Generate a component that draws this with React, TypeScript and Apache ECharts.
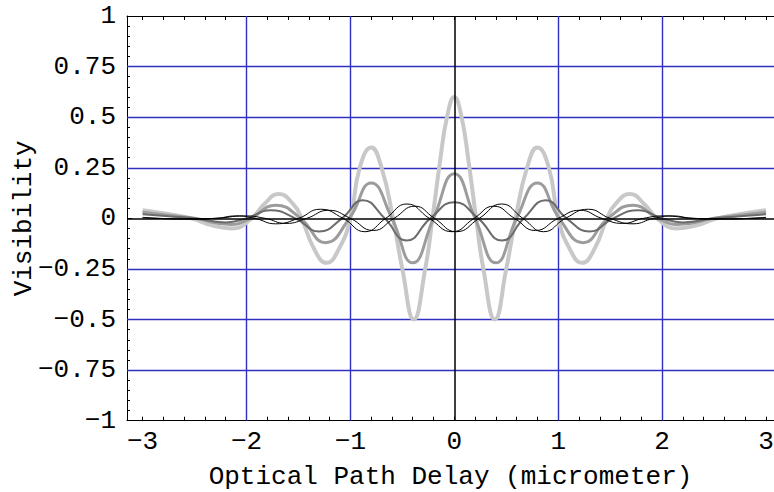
import React, { useEffect, useRef } from "react";
import * as echarts from "echarts";

// Axis ticks / labels
const xLabelValues = [-3, -2, -1, 0, 1, 2, 3];
const xGridValues = [-2, -1, 1, 2];
const yGridValues = [-0.75, -0.5, -0.25, 0.25, 0.5, 0.75];
const xTitle = "Optical Path Delay (micrometer)";
const yTitle = "Visibility";

// Light gray curve (largest amplitude)
const lightCurve: [number, number][] = [
  [-3.0, 0.04], [-2.8, 0.025], [-2.53, 0], [-2.33, -0.035], [-2.14, -0.05], [-1.95, 0],
  [-1.83, 0.07], [-1.69, 0.12], [-1.55, 0.07], [-1.47, 0], [-1.35, -0.15], [-1.23, -0.22],
  [-1.11, -0.15], [-1.0, 0], [-0.91, 0.25], [-0.8, 0.35], [-0.7, 0.25], [-0.59, 0],
  [-0.5, -0.25], [-0.39, -0.5], [-0.28, -0.25], [-0.21, 0], [-0.135, 0.29], [-0.07, 0.5],
  [0, 0.6],
  [0.07, 0.5], [0.135, 0.29], [0.21, 0], [0.28, -0.25], [0.39, -0.5], [0.5, -0.25],
  [0.59, 0], [0.7, 0.25], [0.8, 0.35], [0.91, 0.25], [1.0, 0], [1.11, -0.15], [1.23, -0.22],
  [1.35, -0.15], [1.47, 0], [1.55, 0.07], [1.69, 0.12], [1.83, 0.07], [1.95, 0],
  [2.14, -0.05], [2.33, -0.035], [2.53, 0], [2.8, 0.025], [3.0, 0.04],
];

// Medium gray curve
const mediumCurve: [number, number][] = [
  [-3.0, 0.03], [-2.75, 0.015], [-2.5, 0], [-2.15, -0.03], [-1.96, 0], [-1.72, 0.065],
  [-1.48, 0], [-1.24, -0.12], [-1.01, 0], [-0.8, 0.175], [-0.6, 0], [-0.4, -0.22],
  [-0.2, 0], [0, 0.22], [0.2, 0], [0.4, -0.22], [0.6, 0], [0.8, 0.175], [1.01, 0],
  [1.24, -0.12], [1.48, 0], [1.72, 0.065], [1.96, 0], [2.15, -0.03], [2.5, 0],
  [2.75, 0.015], [3.0, 0.03],
];

// Dark gray curve
const darkCurve: [number, number][] = [
  [-3.0, 0.02], [-2.75, 0.01], [-2.5, 0], [-2.2, -0.02], [-2.0, 0], [-1.77, 0.04],
  [-1.53, 0], [-1.3, -0.065], [-1.08, 0], [-0.88, 0.09], [-0.67, 0], [-0.46, -0.11],
  [-0.23, 0], [0, 0.08], [0.23, 0], [0.46, -0.11], [0.67, 0], [0.88, 0.09], [1.08, 0],
  [1.3, -0.065], [1.53, 0], [1.77, 0.04], [2.0, 0], [2.2, -0.02], [2.5, 0],
  [2.75, 0.01], [3.0, 0.02],
];

// Thin black curve, shifted left
const blackLeft: [number, number][] = [
  [-3.0, 0.003], [-2.6, -0.003], [-2.3, 0], [-2.1, 0.012], [-1.92, 0], [-1.72, -0.027],
  [-1.5, 0], [-1.29, 0.045], [-1.07, 0], [-0.86, -0.066], [-0.66, 0], [-0.455, 0.071],
  [-0.24, 0], [-0.02, -0.066], [0.19, 0], [0.38, 0.06], [0.58, 0], [0.78, -0.06],
  [1.0, 0], [1.21, 0.04], [1.42, 0], [1.62, -0.025], [1.82, 0], [2.02, 0.012],
  [2.3, 0], [2.6, -0.003], [3.0, 0.005],
];

// Thin black curve, shifted right
const blackRight: [number, number][] = [
  [-3.0, 0.005], [-2.6, -0.003], [-2.3, 0], [-2.02, 0.012], [-1.82, 0], [-1.62, -0.025],
  [-1.42, 0], [-1.21, 0.04], [-1.0, 0], [-0.78, -0.06], [-0.58, 0], [-0.38, 0.06],
  [-0.19, 0], [0.02, -0.066], [0.24, 0], [0.455, 0.071], [0.66, 0], [0.86, -0.066],
  [1.07, 0], [1.29, 0.045], [1.5, 0], [1.72, -0.027], [1.92, 0], [2.1, 0.012],
  [2.3, 0], [2.6, -0.003], [3.0, 0.003],
];

const FONT = "Liberation Mono";
const FONT_SIZE = 26;
const GRID_BLUE = "#3030c0";
const minus = (v: number) => (v < 0 ? "\u2212" + String(-v) : String(v));

function tickValues(from: number, to: number, step: number): number[] {
  const out: number[] = [];
  const n = Math.round((to - from) / step);
  for (let i = 0; i <= n; i++) out.push(Math.round((from + i * step) * 1000) / 1000);
  return out;
}

export default function App() {
  const ref = useRef<HTMLDivElement>(null);
  useEffect(() => {
    if (!ref.current) return;
    const chart = echarts.init(ref.current, undefined, { renderer: "svg" });
    const xMinor = tickValues(-3, 3, 0.2);
    const baseX = {
      type: "value" as const,
      min: -3.15,
      max: 3.077,
      splitLine: { show: false },
    };
    const curve = (data: [number, number][], color: string, width: number, z: number) => ({
      type: "line",
      data,
      smooth: 0.5,
      showSymbol: false,
      symbol: "none",
      z,
      lineStyle: { color, width },
      silent: true,
    });
    chart.setOption({
      animation: false,
      backgroundColor: "#ffffff",
      grid: {
        left: 127,
        top: 16,
        right: 0,
        height: 404.7,
        containLabel: false,
        outerBoundsMode: "none",
      },
      xAxis: [
        {
          ...baseX,
          position: "bottom",
          axisLine: { show: true, onZero: false, lineStyle: { color: "#000", width: 1 } },
          axisTick: { show: true, inside: true, length: 4, customValues: xMinor, lineStyle: { color: "#000" } },
          axisLabel: {
            show: true,
            customValues: xLabelValues,
            formatter: minus,
            color: "#000",
            fontFamily: FONT,
            fontSize: FONT_SIZE,
            margin: 8,
          },
          name: xTitle,
          nameLocation: "middle",
          nameGap: 43,
          nameMoveOverlap: false,
          nameTextStyle: { color: "#000", fontFamily: FONT, fontSize: FONT_SIZE },
        },
        {
          ...baseX,
          position: "top",
          axisLine: { show: true, onZero: false, lineStyle: { color: "#000", width: 1 } },
          axisTick: { show: true, inside: true, length: 4, customValues: xMinor, lineStyle: { color: "#000" } },
          axisLabel: { show: false },
        },
      ],
      yAxis: [
        {
          type: "value",
          min: -1,
          max: 1,
          interval: 0.25,
          position: "left",
          axisLine: { show: true, onZero: false, lineStyle: { color: "#000", width: 1 } },
          axisTick: { show: true, inside: true, length: 5, lineStyle: { color: "#000" } },
          minorTick: { show: true, splitNumber: 5, length: 3, lineStyle: { color: "#000" } },
          splitLine: { show: false },
          axisLabel: {
            formatter: minus,
            color: "#000",
            fontFamily: FONT,
            fontSize: FONT_SIZE,
            margin: 11,
          },
          name: yTitle,
          nameLocation: "middle",
          nameGap: 90,
          nameMoveOverlap: false,
          nameTextStyle: { color: "#000", fontFamily: FONT, fontSize: FONT_SIZE },
        },
      ],
      series: [
        {
          type: "line",
          data: [],
          z: 1,
          silent: true,
          markLine: {
            z: 1,
            silent: true,
            symbol: ["none", "none"],
            label: { show: false },
            lineStyle: { color: GRID_BLUE, width: 1.4, type: "solid" },
            data: [
              ...xGridValues.map((v) => ({ xAxis: v })),
              ...yGridValues.map((v) => ({ yAxis: v })),
            ],
          },
        },
        curve(lightCurve, "#c8c8c8", 4, 2),
        curve(mediumCurve, "#9c9c9c", 3, 3),
        curve(darkCurve, "#6c6c6c", 2, 4),
        curve(blackLeft, "#000000", 1, 5),
        curve(blackRight, "#000000", 1, 5),
        {
          type: "line",
          data: [],
          z: 10,
          silent: true,
          markLine: {
            z: 10,
            silent: true,
            symbol: ["none", "none"],
            label: { show: false },
            lineStyle: { color: "#000000", width: 1.5, type: "solid" },
            data: [{ xAxis: 0 }, { yAxis: 0 }],
          },
        },
      ],
    });
    return () => chart.dispose();
  }, []);
  return (
    <div
      ref={ref}
      style={{ position: "fixed", left: 0, top: 0, width: 774, height: 492, background: "#fff" }}
    />
  );
}
